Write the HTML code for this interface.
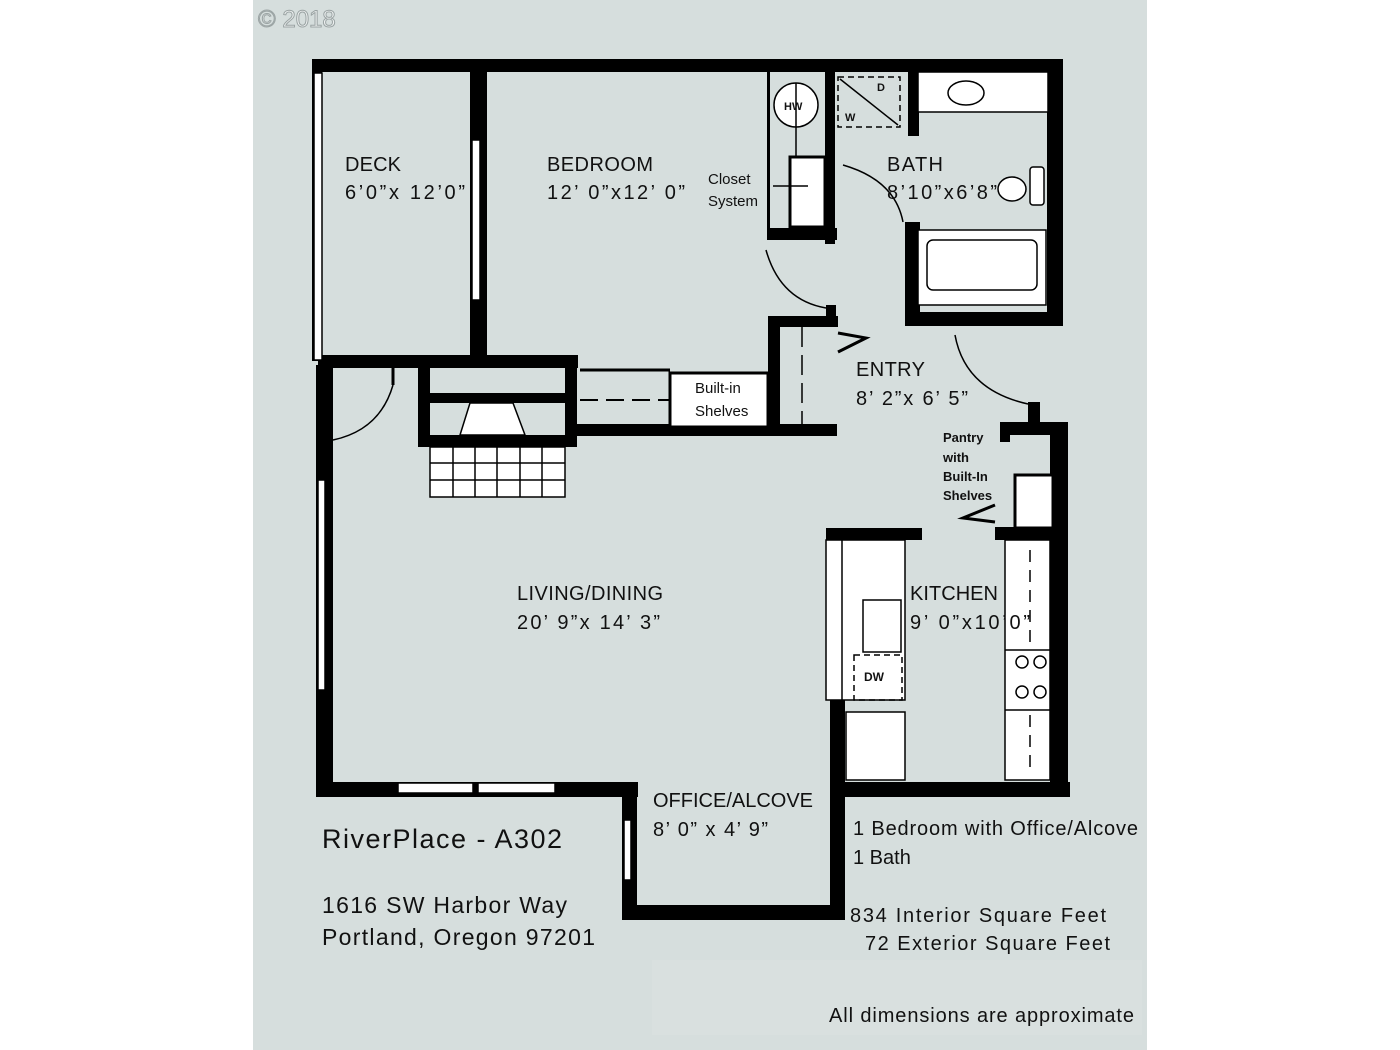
<!DOCTYPE html>
<html><head><meta charset="utf-8"><style>
html,body{margin:0;padding:0;background:#fff;}
svg{display:block}
text{font-family:"Liberation Sans",sans-serif;fill:#111}
</style></head><body>
<svg width="1400" height="1050" viewBox="0 0 1400 1050" xmlns="http://www.w3.org/2000/svg">
<rect x="253" y="0" width="894" height="1050" fill="#d6dedd"/>
<rect x="652" y="960" width="490" height="75" fill="#d9e0df"/>
<text x="258" y="27" font-size="24" style="fill:#eef1f1;stroke:#9aa3a3;stroke-width:1">© 2018</text>
<g fill="#000">
<rect x="312" y="59" width="750" height="13"/>
<rect x="1047" y="59" width="16" height="267"/>
<rect x="312" y="59" width="10" height="302"/>
<rect x="470" y="59" width="17" height="304"/>
<rect x="825" y="59" width="10" height="185"/>
<rect x="908" y="59" width="11" height="77"/>
<rect x="767" y="228" width="70" height="12"/>
<rect x="767" y="72" width="3" height="160"/>
<rect x="905" y="222" width="15" height="104"/>
<rect x="905" y="312" width="158" height="14"/>
<rect x="1028" y="402" width="12" height="20"/>
<rect x="318" y="355" width="260" height="13"/>
<rect x="418" y="365" width="12" height="82"/>
<rect x="565" y="365" width="12" height="82"/>
<rect x="418" y="393" width="159" height="10"/>
<rect x="418" y="435" width="159" height="12"/>
<rect x="577" y="424" width="260" height="12"/>
<rect x="768" y="318" width="12" height="112"/>
<rect x="768" y="316" width="70" height="11"/>
<rect x="826" y="305" width="10" height="22"/>
<rect x="316" y="365" width="17" height="432"/>
<rect x="316" y="782" width="322" height="15"/>
<rect x="622" y="782" width="15" height="138"/>
<rect x="622" y="905" width="223" height="15"/>
<rect x="830" y="700" width="15" height="220"/>
<rect x="830" y="782" width="240" height="15"/>
<rect x="1050" y="422" width="18" height="375"/>
<rect x="1000" y="422" width="68" height="13"/>
<rect x="1000" y="422" width="10" height="20"/>
<rect x="826" y="528" width="96" height="12"/>
<rect x="995" y="527" width="65" height="13"/>
</g>
<g fill="#fff" stroke="#000" stroke-width="1.5">
<rect x="314" y="73" width="8" height="287"/>
<rect x="472" y="140" width="8" height="160"/>
<rect x="318" y="480" width="7" height="210"/>
<rect x="398" y="783" width="75" height="10"/>
<rect x="478" y="783" width="77" height="10"/>
<rect x="624" y="820" width="7" height="60"/>
<rect x="918" y="72" width="130" height="40"/>
<ellipse cx="966" cy="93" rx="18" ry="12"/>
<rect x="918" y="230" width="128" height="75"/>
<rect x="927" y="240" width="110" height="50" rx="6"/>
<ellipse cx="1012" cy="189" rx="14" ry="12"/>
<rect x="1030" y="167" width="14" height="38" rx="3"/>
<circle cx="796" cy="105" r="22"/>
<rect x="790" y="157" width="35" height="70" stroke-width="3"/>
<rect x="670" y="373" width="98" height="54" stroke-width="3"/>
<polygon points="470,403 513,403 525,435 460,435"/>
<rect x="430" y="447" width="135" height="50"/>
<rect x="826" y="540" width="79" height="160"/>
<rect x="863" y="600" width="38" height="52"/>
<rect x="846" y="712" width="59" height="68"/>
<rect x="1005" y="540" width="45" height="240"/>
<rect x="1015" y="475" width="38" height="53" stroke-width="3"/>
</g>
<g stroke="#000" stroke-width="1.5" fill="none">
<line x1="453" y1="447" x2="453" y2="497"/><line x1="475" y1="447" x2="475" y2="497"/><line x1="497" y1="447" x2="497" y2="497"/><line x1="520" y1="447" x2="520" y2="497"/><line x1="542" y1="447" x2="542" y2="497"/>
<line x1="430" y1="463" x2="565" y2="463"/><line x1="430" y1="480" x2="565" y2="480"/>
<line x1="842" y1="540" x2="842" y2="700"/>
<rect x="854" y="655" width="48" height="45" stroke-dasharray="6,4"/>
<rect x="838" y="77" width="62" height="50" stroke-dasharray="6,4"/>
<line x1="840" y1="79" x2="898" y2="125"/>
<line x1="796" y1="83" x2="796" y2="157"/>
<circle cx="1022" cy="662" r="6"/><circle cx="1040" cy="662" r="6"/><circle cx="1022" cy="692" r="6"/><circle cx="1040" cy="692" r="6"/>
<line x1="1005" y1="650" x2="1050" y2="650"/><line x1="1005" y1="710" x2="1050" y2="710"/>
<line x1="1030" y1="550" x2="1030" y2="650" stroke-dasharray="12,8"/>
<line x1="1030" y1="715" x2="1030" y2="775" stroke-dasharray="12,8"/>
<line x1="580" y1="370" x2="670" y2="370" stroke-width="3"/>
<line x1="580" y1="400" x2="670" y2="400" stroke-width="2" stroke-dasharray="18,8"/>
<line x1="802" y1="327" x2="802" y2="424" stroke-dasharray="20,8"/>
<path d="M333 440 Q380 430 393 385"/><line x1="393" y1="385" x2="393" y2="368" stroke-width="3"/>
<path d="M766 250 Q780 300 826 308"/>
<path d="M843 165 Q895 180 903 222"/>
<path d="M955 335 Q965 390 1028 404"/>
<polyline points="838,333 866,338 838,352" stroke-width="3"/>
<polyline points="995,505 963,518 995,522" stroke-width="3"/>
<line x1="773" y1="186" x2="808" y2="186"/>
</g>
<text x="845" y="121" font-size="11" font-weight="bold">W</text>
<text x="877" y="91" font-size="11" font-weight="bold">D</text>
<text x="784" y="110" font-size="11" font-weight="bold">HW</text>
<text x="864" y="681" font-size="12" font-weight="bold">DW</text>
<g font-size="20">
<text x="345" y="171" textLength="56">DECK</text><text x="345" y="199" textLength="120">6’0”x 12’0”</text>
<text x="547" y="171" textLength="106">BEDROOM</text><text x="547" y="199" textLength="138">12’ 0”x12’ 0”</text>
<text x="887" y="171" textLength="56">BATH</text><text x="887" y="199" textLength="110">8’10”x6’8”</text>
<text x="856" y="376" textLength="69">ENTRY</text><text x="856" y="405" textLength="112">8’ 2”x 6’ 5”</text>
<text x="517" y="600" textLength="146">LIVING/DINING</text><text x="517" y="629" textLength="143">20’ 9”x 14’ 3”</text>
<text x="910" y="600" textLength="88">KITCHEN</text><text x="910" y="629" textLength="120">9’ 0”x10’0”</text>
<text x="653" y="807" textLength="160">OFFICE/ALCOVE</text><text x="653" y="836" textLength="115">8’ 0” x 4’ 9”</text>
</g>
<g font-size="15">
<text x="708" y="184">Closet</text><text x="708" y="206">System</text>
<text x="695" y="393">Built-in</text><text x="695" y="416">Shelves</text>
</g>
<g font-size="13" font-weight="bold">
<text x="943" y="442">Pantry</text><text x="943" y="462">with</text><text x="943" y="481">Built-In</text><text x="943" y="500">Shelves</text>
</g>
<text x="322" y="848" font-size="27" textLength="240">RiverPlace - A302</text>
<text x="322" y="913" font-size="23" textLength="245">1616 SW Harbor Way</text>
<text x="322" y="945" font-size="23" textLength="273">Portland, Oregon 97201</text>
<g font-size="20">
<text x="853" y="835" textLength="285">1 Bedroom with Office/Alcove</text>
<text x="853" y="864">1 Bath</text>
<text x="850" y="922" textLength="256">834  Interior Square Feet</text>
<text x="865" y="950" textLength="245">72  Exterior Square Feet</text>
<text x="829" y="1022" textLength="305">All dimensions are approximate</text>
</g>
</svg>
</body></html>
